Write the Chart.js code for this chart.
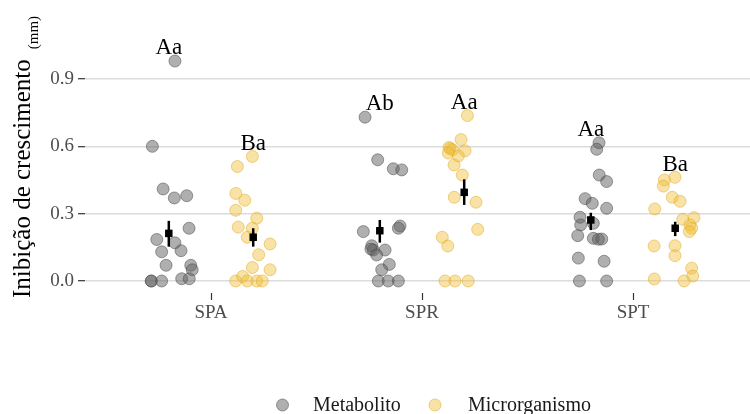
<!DOCTYPE html>
<html>
<head>
<meta charset="utf-8">
<script src="https://cdn.jsdelivr.net/npm/chart.js@4/dist/chart.umd.min.js"></script>
<style>
  html, body { margin: 0; padding: 0; background: #fff; }
</style>
</head>
<body>
<canvas id="chart" width="750" height="414"></canvas>
<script>
const categories = ['SPA', 'SPR', 'SPT'];
const groupNames = ['Metabolito', 'Microrganismo'];
const yTicks = [0, 0.3, 0.6, 0.9];

// jittered observations (x = position on the category axis, y = value)
const spaMetX = [0.829, 0.722, 0.773, 0.826, 0.885, 0.896, 0.743, 0.829, 0.766, 0.858, 0.787, 0.904, 0.911, 0.717, 0.717, 0.766, 0.861, 0.897];
const spaMetY = [0.98, 0.60, 0.41, 0.37, 0.38, 0.235, 0.185, 0.17, 0.13, 0.135, 0.07, 0.07, 0.05, 0, 0, 0, 0.01, 0.01];
const spaMicX = [1.196, 1.125, 1.118, 1.160, 1.117, 1.217, 1.129, 1.196, 1.172, 1.280, 1.226, 1.196, 1.280, 1.117, 1.150, 1.172, 1.217, 1.243];
const spaMicY = [0.555, 0.51, 0.39, 0.36, 0.315, 0.28, 0.24, 0.235, 0.195, 0.165, 0.117, 0.06, 0.05, 0, 0.02, 0, 0, 0];

const sprMetX = [1.730, 1.790, 1.864, 1.904, 1.896, 1.888, 1.722, 1.762, 1.769, 1.758, 1.825, 1.785, 1.845, 1.809, 1.793, 1.840, 1.888];
const sprMetY = [0.73, 0.54, 0.50, 0.495, 0.245, 0.235, 0.22, 0.157, 0.138, 0.142, 0.138, 0.116, 0.074, 0.05, 0, 0, 0];
const sprMicX = [2.215, 2.185, 2.133, 2.128, 2.145, 2.204, 2.125, 2.172, 2.152, 2.191, 2.153, 2.256, 2.264, 2.096, 2.122, 2.109, 2.156, 2.219];
const sprMicY = [0.737, 0.63, 0.59, 0.595, 0.585, 0.58, 0.57, 0.557, 0.517, 0.472, 0.373, 0.351, 0.23, 0.195, 0.156, 0, 0, 0];

const sptMetX = [2.839, 2.828, 2.840, 2.875, 2.773, 2.807, 2.875, 2.749, 2.812, 2.752, 2.738, 2.812, 2.836, 2.852, 2.741, 2.863, 2.746, 2.875];
const sptMetY = [0.616, 0.587, 0.472, 0.443, 0.367, 0.346, 0.324, 0.284, 0.257, 0.25, 0.202, 0.19, 0.186, 0.187, 0.102, 0.088, 0, 0];
const sptMicX = [3.199, 3.149, 3.144, 3.186, 3.223, 3.103, 3.236, 3.289, 3.270, 3.278, 3.267, 3.100, 3.199, 3.199, 3.278, 3.283, 3.101, 3.242];
const sptMicY = [0.462, 0.45, 0.423, 0.373, 0.355, 0.321, 0.275, 0.282, 0.25, 0.235, 0.22, 0.156, 0.157, 0.113, 0.057, 0.022, 0.009, 0];

// group means with error bar limits, per category
const meanMet = [0.212, 0.224, 0.272];
const lowMet = [0.153, 0.171, 0.227];
const highMet = [0.268, 0.272, 0.304];
const meanMic = [0.195, 0.395, 0.235];
const lowMic = [0.153, 0.339, 0.200];
const highMic = [0.235, 0.453, 0.264];

// significance letters
const lettersMet = ['Aa', 'Ab', 'Aa'];
const lettersMic = ['Ba', 'Aa', 'Ba'];

const SERIF = "'Liberation Serif', 'Times New Roman', serif";
const dodge = 0.2;
const metColor = 'rgba(95, 95, 95, 0.5)';
const metBorder = 'rgba(70, 70, 70, 0.5)';
const micColor = 'rgba(240, 190, 55, 0.45)';
const micBorder = 'rgba(225, 170, 35, 0.5)';

function pts(xs, ys) {
  return xs.map((x, i) => ({ x: x, y: ys[i] }));
}

const metPoints = [].concat(pts(spaMetX, spaMetY), pts(sprMetX, sprMetY), pts(sptMetX, sptMetY));
const micPoints = [].concat(pts(spaMicX, spaMicY), pts(sprMicX, sprMicY), pts(sptMicX, sptMicY));
const meanPoints = [].concat(
  meanMet.map((m, i) => ({ x: i + 1 - dodge, y: m })),
  meanMic.map((m, i) => ({ x: i + 1 + dodge, y: m }))
);

const maxMet = [spaMetY, sprMetY, sptMetY].map(a => Math.max(...a));
const maxMic = [spaMicY, sprMicY, sptMicY].map(a => Math.max(...a));

// error bars, letters, y title and legend
const extras = {
  id: 'extras',
  afterDatasetsDraw(chart) {
    const { ctx, scales: { x, y } } = chart;
    ctx.save();
    ctx.strokeStyle = '#000';
    ctx.lineWidth = 2.5;
    categories.forEach((c, i) => {
      [[i + 1 - dodge, lowMet[i], highMet[i]], [i + 1 + dodge, lowMic[i], highMic[i]]].forEach(([cx, lo, hi]) => {
        const px = x.getPixelForValue(cx);
        ctx.beginPath();
        ctx.moveTo(px, y.getPixelForValue(lo));
        ctx.lineTo(px, y.getPixelForValue(hi));
        ctx.stroke();
      });
    });

    ctx.fillStyle = '#000';
    ctx.font = '23px ' + SERIF;
    ctx.textAlign = 'center';
    ctx.textBaseline = 'alphabetic';
    categories.forEach((c, i) => {
      ctx.fillText(lettersMet[i], x.getPixelForValue(i + 1 - dodge), y.getPixelForValue(maxMet[i] + 0.03));
      ctx.fillText(lettersMic[i], x.getPixelForValue(i + 1 + dodge), y.getPixelForValue(maxMic[i] + 0.03));
    });
    ctx.restore();
  },
  afterDraw(chart) {
    const ctx = chart.ctx;
    ctx.save();
    // y axis title with smaller unit
    ctx.translate(30, 298);
    ctx.rotate(-Math.PI / 2);
    ctx.fillStyle = '#000';
    ctx.textAlign = 'left';
    ctx.textBaseline = 'alphabetic';
    ctx.font = '25px ' + SERIF;
    const title = 'Inibição de crescimento';
    ctx.fillText(title, 0, 0);
    const w = ctx.measureText(title).width;
    ctx.font = '15px ' + SERIF;
    ctx.fillText('(mm)', w + 10, 8);
    ctx.restore();

    // legend
    ctx.save();
    const items = [
      { label: groupNames[0], fill: metColor, border: metBorder, dot: 282.5, text: 313 },
      { label: groupNames[1], fill: micColor, border: micBorder, dot: 435, text: 468 }
    ];
    ctx.font = '20px ' + SERIF;
    ctx.textAlign = 'left';
    ctx.textBaseline = 'alphabetic';
    items.forEach(it => {
      ctx.beginPath();
      ctx.arc(it.dot, 405, 6, 0, Math.PI * 2);
      ctx.fillStyle = it.fill;
      ctx.fill();
      ctx.strokeStyle = it.border;
      ctx.lineWidth = 1;
      ctx.stroke();
      ctx.fillStyle = '#1a1a1a';
      ctx.fillText(it.label, it.text, 411);
    });
    ctx.restore();
  }
};

new Chart(document.getElementById('chart'), {
  type: 'scatter',
  data: {
    datasets: [
      {
        label: 'mean',
        data: meanPoints,
        pointStyle: 'rect',
        pointRadius: 5.3,
        backgroundColor: '#000',
        borderColor: '#000',
        borderWidth: 0
      },
      {
        label: groupNames[0],
        data: metPoints,
        pointRadius: 6,
        backgroundColor: metColor,
        borderColor: metBorder,
        borderWidth: 1
      },
      {
        label: groupNames[1],
        data: micPoints,
        pointRadius: 6,
        backgroundColor: micColor,
        borderColor: micBorder,
        borderWidth: 1
      }
    ]
  },
  options: {
    responsive: false,
    animation: false,
    devicePixelRatio: 1,
    layout: { padding: 0, autoPadding: false },
    plugins: {
      legend: { display: false },
      tooltip: { enabled: false }
    },
    scales: {
      x: {
        type: 'linear',
        min: 0.4028,
        max: 3.5545,
        afterBuildTicks: (scale) => { scale.ticks = [1, 2, 3].map(v => ({ value: v })); },
        afterFit: (scale) => {
          scale.height = 121;
          scale.paddingLeft = 0;
          scale.paddingRight = 0;
        },
        ticks: {
          callback: (v) => categories[v - 1],
          color: '#4d4d4d',
          font: { family: SERIF, size: 19 },
          padding: 2,
          maxRotation: 0
        },
        grid: {
          drawOnChartArea: false,
          tickLength: 7,
          tickColor: '#333',
          tickWidth: 1.2
        },
        border: { display: false }
      },
      y: {
        min: -0.0535,
        max: 1.252,
        afterBuildTicks: (scale) => { scale.ticks = yTicks.map(v => ({ value: v })); },
        afterFit: (scale) => {
          scale.width = 85;
          scale.paddingTop = 0;
          scale.paddingBottom = 0;
        },
        ticks: {
          callback: (v) => v.toFixed(1),
          color: '#4d4d4d',
          font: { family: SERIF, size: 19 },
          padding: 4
        },
        grid: {
          color: '#dcdcdc',
          lineWidth: 1.4,
          tickLength: 7,
          tickColor: '#333',
          tickWidth: 1.2
        },
        border: { display: false }
      }
    }
  },
  plugins: [extras]
});
</script>
</body>
</html>
